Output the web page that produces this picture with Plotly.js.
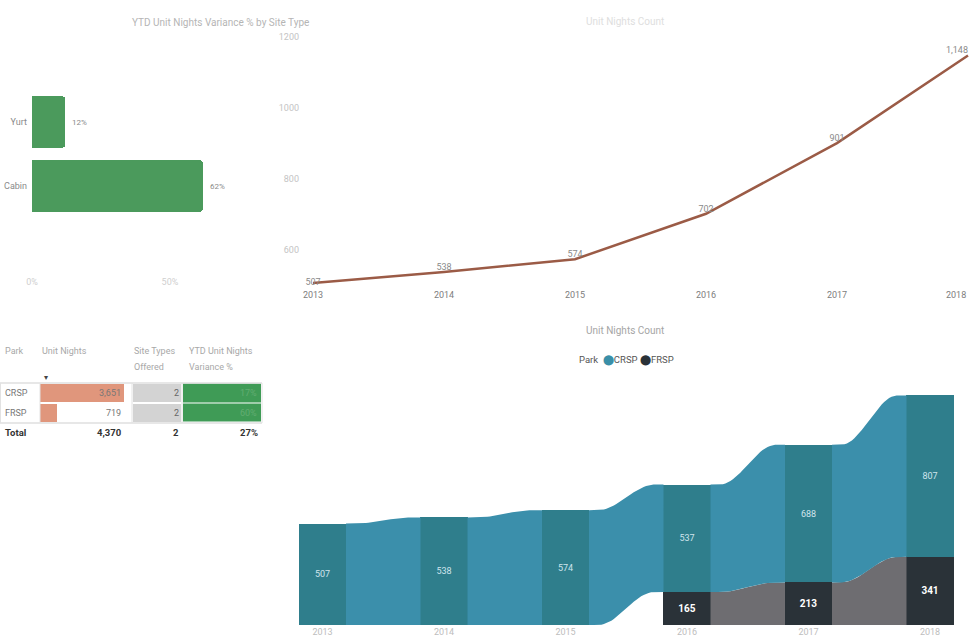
<!DOCTYPE html>
<html>
<head>
<meta charset="utf-8">
<script src="https://cdn.plot.ly/plotly-3.0.1.min.js"></script>
<style>
html,body{margin:0;padding:0;background:#fff;}
#chart{width:970px;height:638px;}
</style>
</head>
<body>
<div id="chart"></div>
<script>
// ---------- data ----------
const siteTypes = ['Yurt', 'Cabin'];
const siteVariance = [12, 62];
const varianceTicks = [0, 50];
const varianceTickText = ['0%', '50%'];

const years = [2013, 2014, 2015, 2016, 2017, 2018];
const totalNights = [507, 538, 574, 702, 901, 1148];
const lineTicks = [600, 800, 1000, 1200];

const crspNights = [507, 538, 574, 537, 688, 807];
const frspNights = [null, null, null, 165, 213, 341];

const parks = ['CRSP', 'FRSP'];
const parkUnitNights = [3651, 719];
const parkSiteTypes = [2, 2];
const parkVariance = [17, 60];
const totalLabel = 'Total';
const totalUnitNights = 4370;
const totalSiteTypes = 2;
const totalVariance = 27;

// ---------- helpers ----------
const W = 970, H = 638;
const px = v => v / W;
const py = v => 1 - v / H;
const FONT = 'Liberation Sans Narrow, Roboto, Open Sans, sans-serif';
const fmt = v => v.toLocaleString('en-US');

const traces = [];

// ---------- top-left bar chart ----------
traces.push({
  type: 'bar', orientation: 'h',
  x: siteVariance, y: siteTypes,
  xaxis: 'x', yaxis: 'y',
  width: 0.8,
  marker: {color: '#4b9a5c', cornerradius: 3},
  text: siteVariance.map(v => '  ' + v + '%'),
  textposition: 'outside',
  textfont: {size: 8, color: '#8a8a8a', family: FONT},
  cliponaxis: false,
  hoverinfo: 'skip'
});

// ---------- top-right line chart ----------
const lastIdx = totalNights.length - 1;
traces.push({
  type: 'scatter', mode: 'lines+text',
  x: years, y: totalNights,
  xaxis: 'x2', yaxis: 'y2',
  line: {color: '#9b5b46', width: 2.5},
  text: totalNights.map(fmt),
  textposition: totalNights.map((v, i) => i === 0 ? 'middle center' : (i === lastIdx ? 'top left' : 'top center')),
  textfont: {size: 9, color: '#8a8a8a', family: FONT},
  cliponaxis: false,
  hoverinfo: 'skip'
});

// ---------- ribbon chart ----------
const colW = 0.387;
const ease = t => {
  const u = Math.min(1, Math.max(0, (t - 0.12) / 0.76));
  return (1 - Math.cos(Math.PI * u)) / 2;
};
function ribbon(xa, xb, lo0, hi0, lo1, hi1, color) {
  const xs = [], ys = [];
  const n = 30;
  for (let k = 0; k <= n; k++) {
    const t = k / n, e = ease(t);
    xs.push(xa + (xb - xa) * t);
    ys.push(hi0 + (hi1 - hi0) * e);
  }
  for (let k = n; k >= 0; k--) {
    const t = k / n, e = ease(t);
    xs.push(xa + (xb - xa) * t);
    ys.push(lo0 + (lo1 - lo0) * e);
  }
  return {
    type: 'scatter', mode: 'lines', x: xs, y: ys,
    xaxis: 'x3', yaxis: 'y3',
    fill: 'toself', fillcolor: color,
    line: {width: 0, color: color},
    hoverinfo: 'skip'
  };
}
for (let i = 0; i < years.length - 1; i++) {
  const xa = years[i] + colW / 2, xb = years[i + 1] - colW / 2;
  const f0 = frspNights[i] || 0, f1 = frspNights[i + 1] || 0;
  if (f0 > 0 && f1 > 0) {
    traces.push(ribbon(xa, xb, 0, f0, 0, f1, '#6e6d71'));
  }
  traces.push(ribbon(xa, xb, f0, f0 + crspNights[i], f1, f1 + crspNights[i + 1], '#3b8fab'));
}
traces.push({
  type: 'bar', x: years, y: frspNights,
  xaxis: 'x3', yaxis: 'y3', width: colW,
  marker: {color: '#2a3238'},
  text: frspNights.map(v => v == null ? '' : fmt(v)),
  textposition: 'inside', insidetextanchor: 'middle', textangle: 0,
  textfont: {size: 10, color: '#ffffff', family: FONT, weight: 'bold'},
  hoverinfo: 'skip'
});
traces.push({
  type: 'bar', x: years, y: crspNights,
  xaxis: 'x3', yaxis: 'y3', width: colW,
  marker: {color: '#2f7e8c'},
  text: crspNights.map(fmt),
  textposition: 'inside', insidetextanchor: 'middle', textangle: 0,
  textfont: {size: 9, color: '#cfe5ec', family: FONT},
  hoverinfo: 'skip'
});

// ---------- table ----------
traces.push({
  type: 'bar', orientation: 'h',
  x: parkUnitNights, y: parks,
  xaxis: 'x4', yaxis: 'y4', width: 0.94,
  marker: {color: '#e0967c'},
  hoverinfo: 'skip'
});
traces.push({
  type: 'bar', orientation: 'h',
  x: parkSiteTypes, y: parks,
  xaxis: 'x5', yaxis: 'y4', width: 0.94,
  marker: {color: '#d3d3d3'},
  hoverinfo: 'skip'
});
traces.push({
  type: 'heatmap',
  x: ['v'], y: parks, z: parkVariance.map(v => [v]),
  xaxis: 'x6', yaxis: 'y4',
  colorscale: [[0, '#3f9b56'], [1, '#3f9b56']],
  showscale: false, ygap: 1,
  hoverinfo: 'skip'
});

// ---------- annotations ----------
const ann = [];
const gray = '#a8a8a8';
ann.push({text: 'YTD Unit Nights Variance % by Site Type', x: px(130), y: py(15), xref: 'paper', yref: 'paper',
  showarrow: false, font: {size: 10, color: '#b5b5b5', family: FONT}});
ann.push({text: 'Unit Nights Count', x: px(625), y: py(14), xref: 'paper', yref: 'paper',
  showarrow: false, font: {size: 10, color: '#dedede', family: FONT}});
ann.push({text: 'Unit Nights Count', x: px(625), y: py(330), xref: 'paper', yref: 'paper',
  showarrow: false, font: {size: 10, color: '#a5a5a5', family: FONT}});
ann.push({text: 'Park  <span style="color:#3a8fa8">⬤</span>CRSP <span style="color:#2a3238">⬤</span>FRSP',
  x: px(626), y: py(360), xref: 'paper', yref: 'paper',
  showarrow: false, font: {size: 9.5, color: '#555', family: FONT}});
// last year tick of the line chart, kept inside the page edge
ann.push({text: String(years[lastIdx]), x: years[lastIdx], y: py(294.5), xref: 'x2', yref: 'paper', xanchor: 'right',
  showarrow: false, font: {size: 9, color: '#7d7d7d', family: FONT}});

// table headers
const hdr = (t, x, y) => ann.push({text: t, x: px(x), y: py(y), xref: 'paper', yref: 'paper', xanchor: 'left',
  showarrow: false, font: {size: 9, color: gray, family: FONT}});
hdr('Park', 3, 351);
hdr('Unit Nights', 40, 351);
hdr('Site Types', 132, 351);
hdr('Offered', 132, 367);
hdr('YTD Unit Nights', 187, 351);
hdr('Variance %', 187, 367);
ann.push({text: '▾', x: px(42), y: py(377), xref: 'paper', yref: 'paper', showarrow: false,
  font: {size: 8, color: '#444', family: FONT}});

parks.forEach((p, i) => {
  ann.push({text: p, x: px(3), y: p, xref: 'paper', yref: 'y4', xanchor: 'left', showarrow: false,
    font: {size: 9, color: '#777', family: FONT}});
  ann.push({text: fmt(parkUnitNights[i]), x: 0.99, y: p, xref: 'x4 domain', yref: 'y4', xanchor: 'right', showarrow: false,
    font: {size: 9, color: '#777', family: FONT}});
  ann.push({text: String(parkSiteTypes[i]), x: 1, y: p, xref: 'x5 domain', yref: 'y4', xanchor: 'right', showarrow: false,
    font: {size: 9, color: '#666', family: FONT}});
  ann.push({text: parkVariance[i] + '%', x: 0.98, y: p, xref: 'x6 domain', yref: 'y4', xanchor: 'right', showarrow: false,
    font: {size: 9, color: '#62ad72', family: FONT}});
});
const tot = (t, x, anchor) => ann.push({text: t, x: px(x), y: py(440), xref: 'paper', yref: 'paper', xanchor: anchor,
  showarrow: false, font: {size: 9.5, color: '#333', family: FONT, weight: 'bold'}});
tot('<b>' + totalLabel + '</b>', 3, 'left');
tot('<b>' + fmt(totalUnitNights) + '</b>', 124, 'right');
tot('<b>' + totalSiteTypes + '</b>', 181, 'right');
tot('<b>' + totalVariance + '%</b>', 260, 'right');

// table lines
const shapes = [];
const hline = (y, c) => shapes.push({type: 'line', xref: 'paper', yref: 'paper', x0: px(0), x1: px(262), y0: py(y), y1: py(y),
  line: {color: c, width: 1}});
hline(383, '#cfcfcf');
hline(423, '#cfcfcf');
[0.5, 40, 132, 182, 262].forEach(x => shapes.push({type: 'line', xref: 'paper', yref: 'paper', x0: px(x), x1: px(x),
  y0: py(383), y1: py(423), line: {color: '#e2e2e2', width: 1}}));

// ---------- layout ----------
const noAxis = {visible: false, fixedrange: true};
const layout = {
  width: W, height: H,
  margin: {l: 0, r: 0, t: 0, b: 0, pad: 0},
  paper_bgcolor: '#ffffff', plot_bgcolor: 'rgba(0,0,0,0)',
  showlegend: false,
  barmode: 'stack',
  font: {family: FONT},
  xaxis: {domain: [px(32), px(240)], range: [0, 75.4], anchor: 'free', position: py(275),
    tickvals: varianceTicks, ticktext: varianceTickText, showgrid: false, zeroline: false, showline: false, ticks: '',
    tickfont: {size: 9, color: '#cfcfcf', family: FONT}},
  yaxis: {domain: [py(218), py(90)], type: 'category', categoryarray: ['Cabin', 'Yurt'], range: [-0.5, 1.5],
    anchor: 'x', showgrid: false, zeroline: false, showline: false, ticks: '', ticklabelstandoff: 4,
    tickfont: {size: 9, color: '#8a8a8a', family: FONT}},
  xaxis2: {domain: [px(300), 1], range: [2013 - 13 / 131, 2013 + 657 / 131], anchor: 'y2',
    tickvals: years.slice(0, lastIdx), showgrid: false, zeroline: false, showline: false, ticks: '',
    tickfont: {size: 9, color: '#7d7d7d', family: FONT}},
  yaxis2: {domain: [py(288), py(30)], range: [600 - 38 / 0.355, 1200 + 7 / 0.355], anchor: 'x2',
    tickvals: lineTicks, showgrid: false, zeroline: false, showline: false, ticks: '',
    tickfont: {size: 9, color: '#c4c4c4', family: FONT}},
  xaxis3: {domain: [px(290), 1], range: [2013 - 32.5 / 121.5, 2013 + 647.5 / 121.5], anchor: 'y3',
    tickvals: years, showgrid: false, zeroline: false, showline: false, ticks: '',
    tickfont: {size: 9, color: '#bdbdbd', family: FONT}},
  yaxis3: {domain: [py(625), py(380)], range: [0, 1225], anchor: 'x3', visible: false},
  xaxis4: Object.assign({domain: [px(40), px(124)], range: [0, Math.max(...parkUnitNights)], anchor: 'y4'}, noAxis),
  xaxis5: Object.assign({domain: [px(133), px(181)], range: [0, Math.max(...parkSiteTypes)], anchor: 'y4'}, noAxis),
  xaxis6: Object.assign({domain: [px(183), px(261)], type: 'category', range: [-0.5, 0.5], anchor: 'y4'}, noAxis),
  yaxis4: Object.assign({domain: [py(422.5), py(383.5)], type: 'category', categoryarray: ['FRSP', 'CRSP'],
    range: [-0.5, 1.5], anchor: 'x4'}, noAxis),
  annotations: ann,
  shapes: shapes
};

Plotly.newPlot('chart', traces, layout, {displayModeBar: false, staticPlot: true});
</script>
</body>
</html>
